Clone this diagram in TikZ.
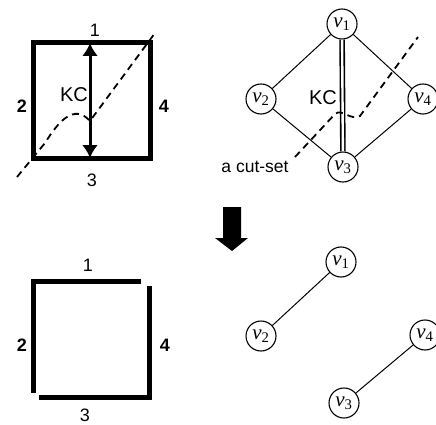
\documentclass[tikz,border=0pt]{standalone}
\usepackage{fontspec}
\setmainfont{Liberation Sans}
\newfontfamily\timesfont{Liberation Serif}
\usetikzlibrary{arrows.meta}
\newcommand{\vx}[1]{{\timesfont\itshape v}\textsubscript{\timesfont #1}}
\tikzset{
  vert/.style={draw, circle, line width=1.1pt, minimum size=30pt, inner sep=0pt, font=\fontsize{21}{21}\selectfont},
  lbl/.style={font=\fontsize{18}{18}\selectfont},
  side/.style={line width=5pt},
  cut/.style={dashed, dash pattern=on 7pt off 5pt, line width=1.8pt},
}
\begin{document}
\begin{tikzpicture}[x=1pt, y=-1pt]
				\useasboundingbox (0, 0) rectangle (436, 425);
				% before the cut
				\draw[side, line join=miter] (33, 43)--(150, 43)--(150, 158)--(33, 158)--cycle;
				\draw[line width=3pt, {Latex[length=13pt, width=16pt]}-{Latex[length=13pt, width=16pt]}] (90, 43)--(90, 158);
				\node[lbl] (t1) at (95, 30) {1};
				\node[lbl, font=\fontsize{18}{18}\bfseries] (t2) at (22, 106) {2};
				\node[lbl, font=\fontsize{18}{18}\bfseries] (t4) at (164, 106) {4};
				\node[lbl] (t3) at (92, 180) {3};
				\node[lbl, font=\fontsize{20}{20}\selectfont] (kcA) at (74, 95) {KC};
				\draw[cut] (17, 177)--(45, 143) .. controls (58, 122) and (74, 103) .. (90, 121)--(155, 33);
				\node[vert] (a1) at (342, 24) {\vx{1}};
				\node[vert] (a2) at (261, 99) {\vx{2}};
				\node[vert] (a4) at (423, 99) {\vx{4}};
				\node[vert] (a3) at (343, 167) {\vx{3}};
				\draw[line width=1pt] (a1)--(a2)--(a3)--(a4)--(a1);
				\draw[line width=1.6pt, double, double distance=2.4pt] (a1)--(a3);
				\node[lbl, font=\fontsize{20}{20}\selectfont] (kcB) at (323, 98) {KC};
				\draw[cut] (295, 157)--(335, 114) .. controls (342, 108) and (350, 121) .. (360, 116)--(418, 37);
				\node[lbl, font=\fontsize{17.5}{17.5}\selectfont] (cutset) at (255, 167) {a cut-set};
				% the thick arrow
				\fill (223, 207)--(241, 207)--(241, 238)--(248, 238)--(232, 251)--(215, 238)--(223, 238)--cycle;
				% after the cut
				\draw[side, line join=miter] (141, 281)--(33, 281)--(33, 393);
				\draw[side, line join=miter] (39, 397)--(149, 397)--(149, 286);
				\node[lbl] (b1) at (88, 265) {1};
				\node[lbl, font=\fontsize{18}{18}\bfseries] (b2) at (22, 345) {2};
				\node[lbl, font=\fontsize{18}{18}\bfseries] (b4) at (165, 345) {4};
				\node[lbl] (b3) at (85, 415) {3};
				\node[vert] (c1) at (341, 262) {\vx{1}};
				\node[vert] (c2) at (261, 336) {\vx{2}};
				\node[vert] (c4) at (425, 335) {\vx{4}};
				\node[vert] (c3) at (344, 403) {\vx{3}};
				\draw[line width=1pt] (c1)--(c2);
				\draw[line width=1pt] (c4)--(c3);
\end{tikzpicture}
\end{document}
